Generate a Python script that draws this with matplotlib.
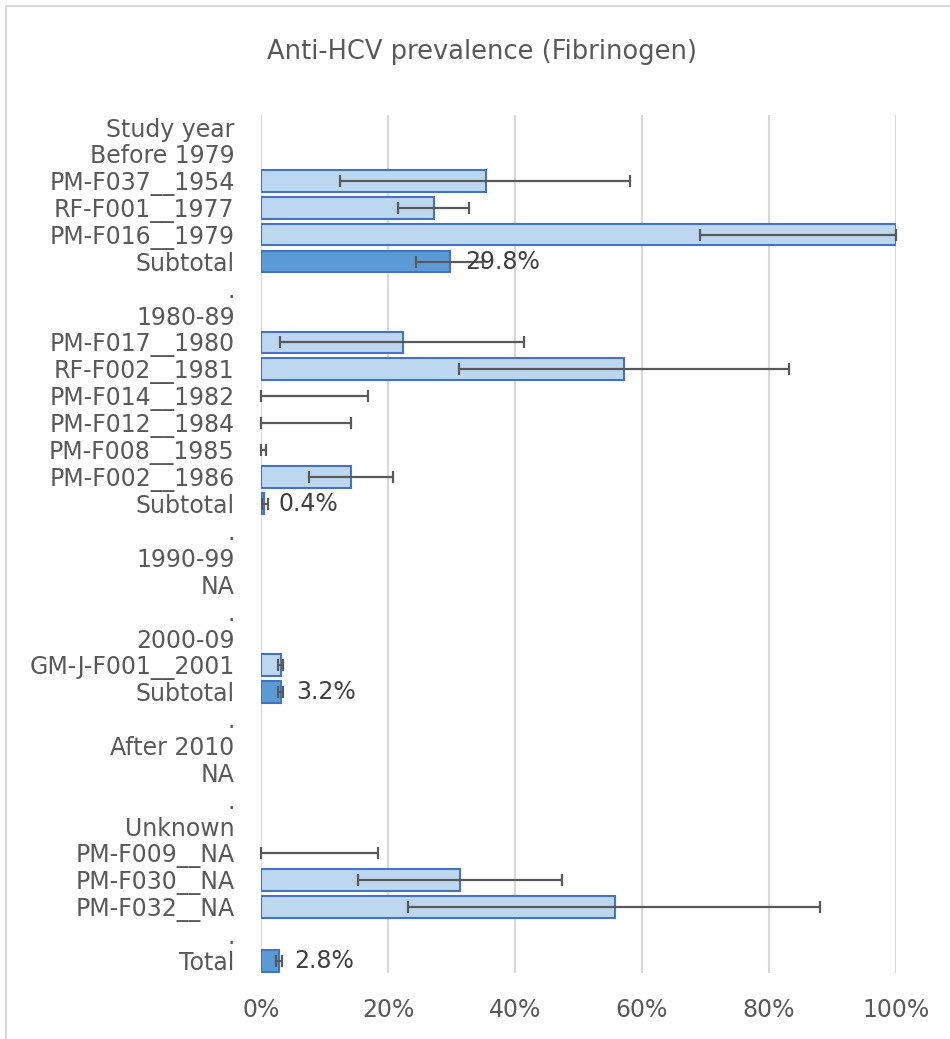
import matplotlib
matplotlib.use("Agg")
import matplotlib.pyplot as plt
import numpy as np
from matplotlib.lines import Line2D

# Category labels, top to bottom
labels = ["Study year", "Before 1979", "PM-F037__1954", "RF-F001__1977",
          "PM-F016__1979", "Subtotal", ".", "1980-89", "PM-F017__1980",
          "RF-F002__1981", "PM-F014__1982", "PM-F012__1984", "PM-F008__1985",
          "PM-F002__1986", "Subtotal", ".", "1990-99", "NA", ".", "2000-09",
          "GM-J-F001__2001", "Subtotal", ".", "After 2010", "NA", ".",
          "Unknown", "PM-F009__NA", "PM-F030__NA", "PM-F032__NA", ".", "Total"]

N = np.nan
# Prevalence (%) and 95% CI bounds (%)
prevalence = [N, N, 35.4, 27.2, 100.0, 29.8, N, N, 22.3, 57.2, 0.0, 0.0, 0.0,
              14.2, 0.4, N, N, N, N, N, 3.2, 3.2, N, N, N, N, N, 0.0, 31.3,
              55.7, N, 2.8]
ci_low = [N, N, 12.5, 21.5, 69.2, 24.4, N, N, 3.0, 31.2, 0.0, 0.0, 0.0,
          7.5, 0.2, N, N, N, N, N, 2.6, 2.6, N, N, N, N, N, 0.0, 15.3,
          23.1, N, 2.4]
ci_high = [N, N, 58.1, 32.8, 100.0, 35.0, N, N, 41.4, 83.1, 16.8, 14.2, 0.8,
           20.8, 1.1, N, N, N, N, N, 3.5, 3.5, N, N, N, N, N, 18.5, 47.4,
           88.1, N, 3.3]
pooled = [lab in ("Subtotal", "Total") for lab in labels]

xticks = [0, 20, 40, 60, 80, 100]
xticklabels = ["0%", "20%", "40%", "60%", "80%", "100%"]

TEXT = "#595959"
W, H = 950, 1039
fig = plt.figure(figsize=(W / 100, H / 100), dpi=100)
ax = fig.add_axes([261 / W, 1 - 973 / H, (896 - 261) / W, (973 - 115) / H])

y = np.arange(len(labels))
vals = np.array(prevalence)
lo = np.array(ci_low)
hi = np.array(ci_high)
dark = np.array(pooled)

light_fill, dark_fill, edge = "#BDD7EE", "#5B9BD5", "#4472C4"
for yi, v, d in zip(y, vals, dark):
    if np.isnan(v) or v <= 0:
        continue
    ax.barh(yi, v, height=0.8, color=dark_fill if d else light_fill,
            edgecolor=edge, linewidth=1.5, zorder=2)

m = ~np.isnan(lo)
ctr = np.where(np.isnan(vals), 0, vals)
xerr = np.vstack([ctr[m] - lo[m], hi[m] - ctr[m]])
ax.errorbar(ctr[m], y[m], xerr=xerr, fmt="none", ecolor="#595959",
            elinewidth=1.6, capsize=4.0, capthick=1.6, zorder=3, clip_on=False)

for yi, v, d in zip(y, vals, dark):
    if d:
        ax.annotate(f"{v:.1f}%", (v, yi), xytext=(11, 0),
                    textcoords="offset points", ha="left", va="center",
                    fontsize=17, color="#404040", zorder=4)

ax.set_xlim(0, 100)
ax.set_ylim(len(labels) - 1 + 0.45, -0.45)
ax.set_xticks(xticks)
ax.set_xticklabels(xticklabels)
ax.set_yticks(y)
ax.set_yticklabels(labels)
ax.tick_params(axis="both", length=0, labelsize=17, labelcolor=TEXT)
ax.tick_params(axis="y", pad=19)
ax.tick_params(axis="x", pad=18)
ax.grid(axis="x", color="#D9D9D9", linewidth=1.5, zorder=0)
ax.set_axisbelow(True)
for s in ax.spines.values():
    s.set_visible(False)

fig.text(482 / W, 1 - 52 / H, "Anti-HCV prevalence (Fibrinogen)",
         ha="center", va="center", fontsize=18.5, color=TEXT)

# Chart frame (top and left edges)
fig.add_artist(Line2D([6 / W, 1], [1 - 6 / H, 1 - 6 / H], color="#D9D9D9",
                      linewidth=1.5, transform=fig.transFigure))
fig.add_artist(Line2D([6 / W, 6 / W], [0, 1 - 6 / H], color="#D9D9D9",
                      linewidth=1.5, transform=fig.transFigure))

fig.savefig("out.png", dpi=100, facecolor="white")
